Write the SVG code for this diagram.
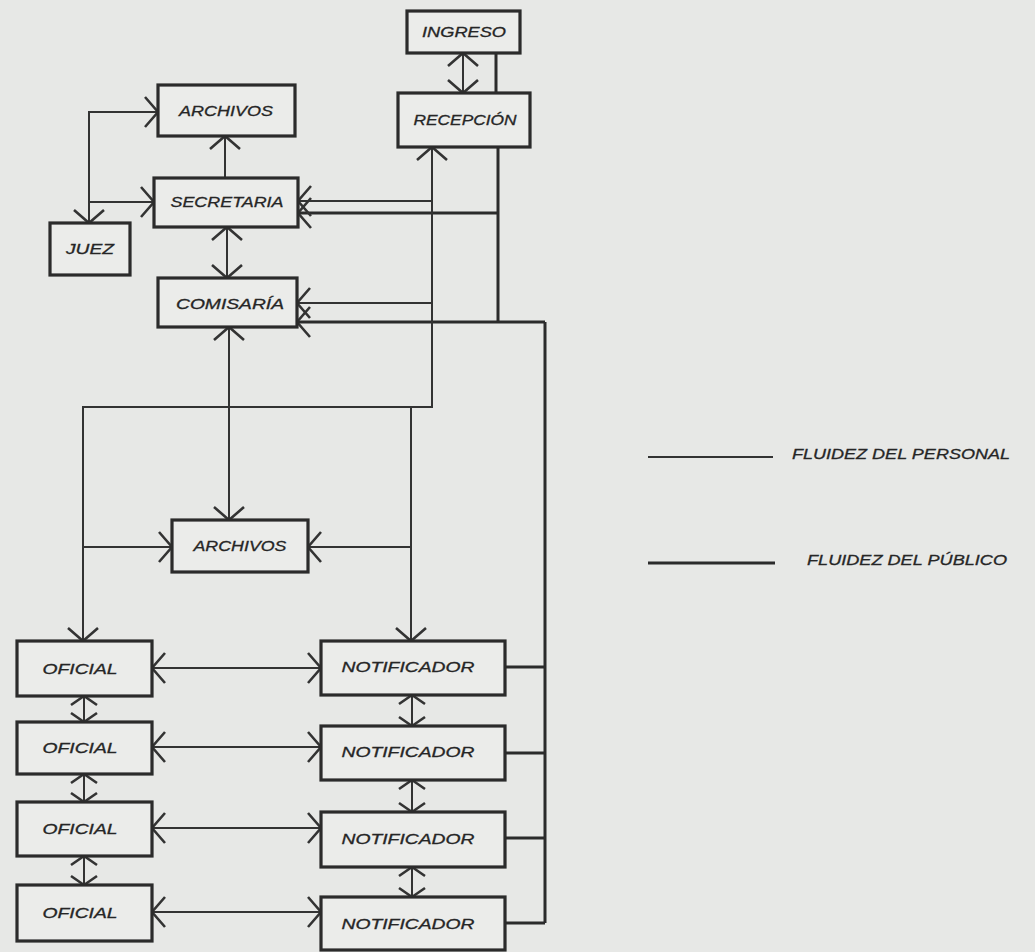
<svg xmlns="http://www.w3.org/2000/svg" width="1035" height="952" viewBox="0 0 1035 952">
<defs>
<style>
.box{fill:#ebecea;stroke:#2b2b2b;stroke-width:3.2}
.lbl{font-family:"Liberation Sans",Arial,sans-serif;font-style:italic;font-size:15px;fill:#262626;text-anchor:middle;stroke:#262626;stroke-width:0.3}
.leg{font-family:"Liberation Sans",Arial,sans-serif;font-style:italic;font-size:15px;fill:#262626;stroke:#262626;stroke-width:0.3}
.per{fill:none;stroke:#333;stroke-width:2}
.pub{fill:none;stroke:#2b2b2b;stroke-width:3}
</style>
<marker id="ah" markerUnits="userSpaceOnUse" viewBox="-16 -18 18 36" refX="0" refY="0" markerWidth="18" markerHeight="36" orient="auto-start-reverse">
<path d="M-13,-15 L0,0 L-13,15" fill="none" stroke="#333" stroke-width="2.6"/>
</marker>
<marker id="as" markerUnits="userSpaceOnUse" viewBox="-12 -16 14 32" refX="0" refY="0" markerWidth="14" markerHeight="32" orient="auto-start-reverse">
<path d="M-9,-13 L0,0 L-9,13" fill="none" stroke="#333" stroke-width="2.6"/>
</marker>
</defs>
<rect x="0" y="0" width="1035" height="952" fill="#e7e8e6"/>
<g id="connectors">
<path class="per" d="M463,53 L463,93" marker-start="url(#ah)" marker-end="url(#ah)"/>
<path class="pub" d="M496,53 L496,93"/>
<path class="pub" d="M498,147 L498,322"/>
<path class="pub" d="M498,213 L298,213" marker-end="url(#ah)"/>
<path class="pub" d="M545,322 L297,322" marker-end="url(#ah)"/>
<path class="pub" d="M545,322 L545,923"/>
<path class="pub" d="M505,667 L545,667"/>
<path class="pub" d="M505,753 L545,753"/>
<path class="pub" d="M505,838 L545,838"/>
<path class="pub" d="M505,923 L545,923"/>
<path class="per" d="M432,147 L432,407 L83,407 L83,641" marker-start="url(#ah)" marker-end="url(#ah)"/>
<path class="per" d="M432,201 L298,201" marker-end="url(#ah)"/>
<path class="per" d="M432,303 L297,303" marker-end="url(#ah)"/>
<path class="per" d="M411,407 L411,641" marker-end="url(#ah)"/>
<path class="per" d="M83,547 L172,547" marker-end="url(#ah)"/>
<path class="per" d="M411,547 L308,547" marker-end="url(#ah)"/>
<path class="per" d="M229,327 L229,520" marker-start="url(#ah)" marker-end="url(#ah)"/>
<path class="per" d="M158,112 L89,112 L89,223" marker-start="url(#ah)" marker-end="url(#ah)"/>
<path class="per" d="M89,202 L154,202" marker-end="url(#ah)"/>
<path class="per" d="M225,136 L225,178" marker-start="url(#ah)"/>
<path class="per" d="M227,227 L227,278" marker-start="url(#ah)" marker-end="url(#ah)"/>
<path class="per" d="M152,668 L321,668" marker-start="url(#ah)" marker-end="url(#ah)"/>
<path class="per" d="M152,747 L321,747" marker-start="url(#ah)" marker-end="url(#ah)"/>
<path class="per" d="M152,828 L321,828" marker-start="url(#ah)" marker-end="url(#ah)"/>
<path class="per" d="M152,912 L321,912" marker-start="url(#ah)" marker-end="url(#ah)"/>
<path class="per" d="M84,696 L84,722" marker-start="url(#as)" marker-end="url(#as)"/>
<path class="per" d="M84,774 L84,802" marker-start="url(#as)" marker-end="url(#as)"/>
<path class="per" d="M84,856 L84,885" marker-start="url(#as)" marker-end="url(#as)"/>
<path class="per" d="M412,695 L412,726" marker-start="url(#as)" marker-end="url(#as)"/>
<path class="per" d="M412,780 L412,812" marker-start="url(#as)" marker-end="url(#as)"/>
<path class="per" d="M412,867 L412,897" marker-start="url(#as)" marker-end="url(#as)"/>
</g>
<g id="ingreso"><rect class="box" x="407" y="11" width="113" height="42"/><text class="lbl" x="464" y="37" textLength="84" lengthAdjust="spacingAndGlyphs">INGRESO</text></g>
<g id="recepcion"><rect class="box" x="398" y="93" width="132" height="54"/><text class="lbl" x="465" y="125" textLength="103" lengthAdjust="spacingAndGlyphs">RECEPCIÓN</text></g>
<g id="archivos1"><rect class="box" x="158" y="85" width="137" height="51"/><text class="lbl" x="226" y="116" textLength="94" lengthAdjust="spacingAndGlyphs">ARCHIVOS</text></g>
<g id="secretaria"><rect class="box" x="154" y="178" width="144" height="49"/><text class="lbl" x="227" y="207" textLength="113" lengthAdjust="spacingAndGlyphs">SECRETARIA</text></g>
<g id="juez"><rect class="box" x="50" y="223" width="80" height="52"/><text class="lbl" x="90" y="254" textLength="48" lengthAdjust="spacingAndGlyphs">JUEZ</text></g>
<g id="comisaria"><rect class="box" x="158" y="278" width="139" height="49"/><text class="lbl" x="230" y="309" textLength="108" lengthAdjust="spacingAndGlyphs">COMISARÍA</text></g>
<g id="archivos2"><rect class="box" x="172" y="520" width="136" height="52"/><text class="lbl" x="240" y="551" textLength="93" lengthAdjust="spacingAndGlyphs">ARCHIVOS</text></g>
<g id="oficial1"><rect class="box" x="17" y="641" width="135" height="55"/><text class="lbl" x="80" y="674" textLength="75" lengthAdjust="spacingAndGlyphs">OFICIAL</text></g>
<g id="oficial2"><rect class="box" x="17" y="722" width="135" height="52"/><text class="lbl" x="80" y="753" textLength="75" lengthAdjust="spacingAndGlyphs">OFICIAL</text></g>
<g id="oficial3"><rect class="box" x="17" y="802" width="135" height="54"/><text class="lbl" x="80" y="834" textLength="75" lengthAdjust="spacingAndGlyphs">OFICIAL</text></g>
<g id="oficial4"><rect class="box" x="17" y="885" width="135" height="56"/><text class="lbl" x="80" y="918" textLength="75" lengthAdjust="spacingAndGlyphs">OFICIAL</text></g>
<g id="notificador1"><rect class="box" x="321" y="641" width="184" height="54"/><text class="lbl" x="408" y="672" textLength="133" lengthAdjust="spacingAndGlyphs">NOTIFICADOR</text></g>
<g id="notificador2"><rect class="box" x="321" y="726" width="184" height="54"/><text class="lbl" x="408" y="757" textLength="133" lengthAdjust="spacingAndGlyphs">NOTIFICADOR</text></g>
<g id="notificador3"><rect class="box" x="321" y="812" width="184" height="55"/><text class="lbl" x="408" y="844" textLength="133" lengthAdjust="spacingAndGlyphs">NOTIFICADOR</text></g>
<g id="notificador4"><rect class="box" x="321" y="897" width="184" height="53"/><text class="lbl" x="408" y="929" textLength="133" lengthAdjust="spacingAndGlyphs">NOTIFICADOR</text></g>
<g id="legend">
<path class="per" d="M648,457 L773,457" stroke-width="2.5"/>
<text class="leg" x="792" y="459" textLength="218" lengthAdjust="spacingAndGlyphs">FLUIDEZ DEL PERSONAL</text>
<path class="pub" d="M648,563 L775,563" stroke-width="3.5"/>
<text class="leg" x="807" y="565" textLength="200" lengthAdjust="spacingAndGlyphs">FLUIDEZ DEL PÚBLICO</text>
</g>
</svg>
